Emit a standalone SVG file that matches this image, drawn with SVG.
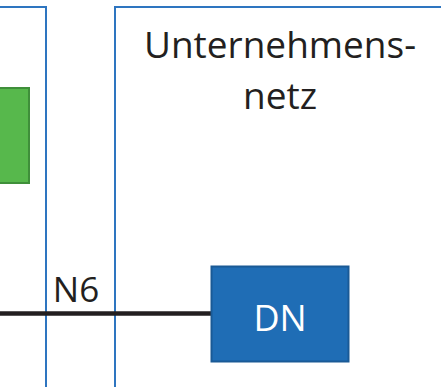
<svg xmlns="http://www.w3.org/2000/svg" width="441" height="387" viewBox="0 0 441 387">
<style>
.zone{fill:none;stroke:#2E75C0;stroke-width:2}
.lbl{font-family:"Open Sans","Noto Sans",sans-serif;fill:#231F20}
.wlbl{font-family:"Open Sans","Noto Sans",sans-serif;fill:#FFFFFF}
</style>
<rect width="441" height="387" fill="#FFFFFF"/>
<g id="zone-left">
<rect class="zone" x="-20" y="7" width="66" height="400"/>
</g>
<g id="zone-unternehmensnetz">
<rect class="zone" x="115" y="7" width="350" height="400"/>
<text class="lbl" x="280" y="58" font-size="37" text-anchor="middle">Unternehmens-</text>
<text class="lbl" x="280" y="109" font-size="37" text-anchor="middle">netz</text>
</g>
<g id="node-green">
<rect x="-10" y="88" width="39" height="95" fill="#57B84C" stroke="#3F8F3A" stroke-width="2"/>
</g>
<g id="connectors">
<line x1="0" y1="313.5" x2="212" y2="313.5" stroke="#231F20" stroke-width="4.5"/>
<text class="lbl" x="76" y="302" font-size="35" text-anchor="middle">N6</text>
</g>
<g id="node-dn">
<rect x="211.5" y="266.5" width="137" height="95" fill="#1F6DB5" stroke="#1A5A96" stroke-width="2"/>
<text class="wlbl" x="280" y="331" font-size="36" text-anchor="middle">DN</text>
</g>
</svg>
